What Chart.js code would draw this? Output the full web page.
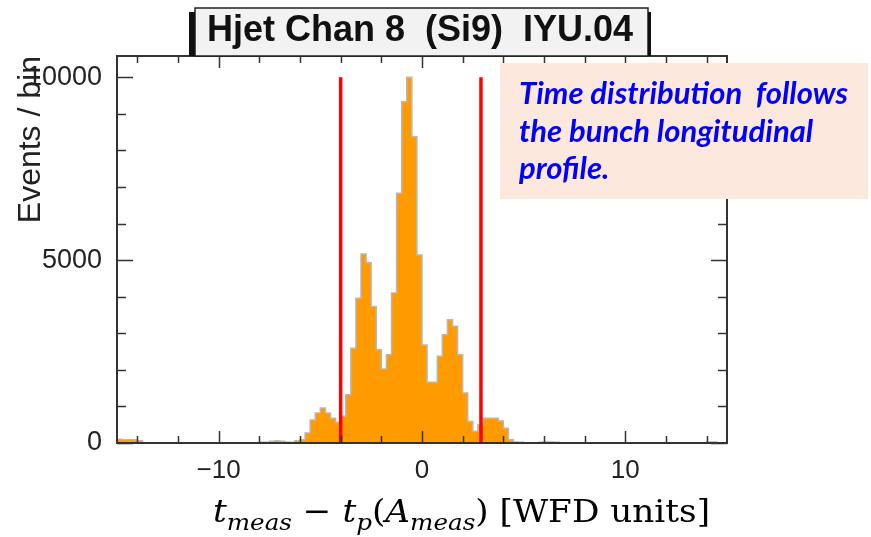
<!DOCTYPE html>
<html>
<head>
<meta charset="utf-8">
<script src="https://cdn.jsdelivr.net/npm/chart.js@4.4.1/dist/chart.umd.min.js"></script>
<style>
  html, body { margin: 0; padding: 0; background: #fff; }
</style>
</head>
<body>
<canvas id="hist" width="871" height="537"></canvas>
<script>
// histogram binning: 120 bins of 0.25 from -15 to 15
const binLow = -15;
const binWidth = 0.25;

// counts per bin (10 bins per row)
const counts = [
  100, 100, 90, 90, 90, 60, 10, 0, 0, 0,          // -15   .. -12.75
  0, 0, 0, 0, 10, 0, 0, 0, 0, 0,                  // -12.5 .. -10.25
  0, 10, 0, 0, 0, 0, 0, 0, 10, 20,                // -10   .. -7.75
  20, 50, 60, 50, 20, 20, 60, 90, 270, 630,       // -7.5  .. -5.25
  820, 955, 820, 680, 560, 730, 1320, 2590, 3960, 5170,   // -5 .. -2.75
  4930, 3730, 2550, 2020, 2410, 4100, 6825, 9330, 10000, 8370, // -2.5 .. -0.25
  5140, 2680, 1660, 1660, 2370, 2960, 3370, 3190, 2410, 1365,  // 0 .. 2.25
  590, 320, 500, 680, 680, 680, 600, 400, 90, 30,  // 2.5 .. 4.75
  20, 10, 10, 10, 20, 30, 30, 20, 10, 0,          // 5 .. 7.25
  0, 0, 0, 0, 0, 0, 0, 0, 0, 0,                   // 7.5 .. 9.75
  0, 0, 0, 0, 0, 0, 0, 0, 0, 0,                   // 10 .. 12.25
  0, 0, 0, 0, 0, 0, 10, 30, 30, 0                 // 12.5 .. 14.75
];

// red cut lines
const cutLow = -4.0;
const cutHigh = 2.9;
const cutTop = 10000;

// axes
const xRange = [-15, 15];
const yRange = [0, 10580];
const xTickLabels = [-10, 0, 10];
const xTicks = [-14, -12, -10, -8, -6, -4, -2, 0, 2, 4, 6, 8, 10, 12, 14];
const yTickLabels = [0, 5000, 10000];
const yTicks = [0, 1000, 2000, 3000, 4000, 5000, 6000, 7000, 8000, 9000, 10000];

const titleText = 'Hjet Chan 8  (Si9)  IYU.04';
const noteLines = ['Time distribution  follows', 'the bunch longitudinal', 'profile.'];

// stepped points at bin low edges + closing edge
const histPoints = counts.map((c, i) => ({ x: binLow + i * binWidth, y: c }));
histPoints.push({ x: binLow + counts.length * binWidth, y: 0 });

const frameAndTicks = {
  id: 'frameAndTicks',
  afterDatasetsDraw(chart) {
    const { ctx, chartArea: a, scales: { x, y } } = chart;
    ctx.save();
    ctx.strokeStyle = '#333';
    ctx.lineWidth = 1.5;
    ctx.beginPath();
    xTicks.forEach(v => {
      const px = Math.round(x.getPixelForValue(v)) + 0.5;
      const len = xTickLabels.includes(v) ? 12 : 7;
      ctx.moveTo(px, a.bottom); ctx.lineTo(px, a.bottom - len);
      ctx.moveTo(px, a.top); ctx.lineTo(px, a.top + len);
    });
    yTicks.forEach(v => {
      const py = Math.round(y.getPixelForValue(v)) + 0.5;
      const len = yTickLabels.includes(v) ? 16 : 9;
      ctx.moveTo(a.left, py); ctx.lineTo(a.left + len, py);
      ctx.moveTo(a.right, py); ctx.lineTo(a.right - len, py);
    });
    ctx.stroke();
    ctx.lineWidth = 2;
    ctx.strokeRect(a.left, a.top, a.right - a.left, a.bottom - a.top);
    ctx.restore();
  },
  afterDraw(chart) {
    const { ctx } = chart;
    ctx.save();
    // title pave
    ctx.fillStyle = '#f2f2f2';
    ctx.fillRect(195, 8, 453, 48);
    ctx.strokeStyle = '#222';
    ctx.lineWidth = 1.5;
    ctx.strokeRect(195, 8, 453, 48);
    ctx.fillStyle = '#111';
    ctx.fillRect(189, 12, 6, 44);
    ctx.fillRect(648, 12, 3, 44);
    ctx.font = 'bold 36px "Liberation Sans"';
    ctx.textAlign = 'center';
    ctx.textBaseline = 'alphabetic';
    ctx.fillText(titleText, 420, 41, 426);

    // note box
    ctx.fillStyle = '#fce8dc';
    ctx.fillRect(500, 63, 368, 136);
    ctx.fillStyle = '#0000ff';
    ctx.font = 'italic bold 31px Lato';
    ctx.textAlign = 'left';
    noteLines.forEach((t, i) => ctx.fillText(t, 519, 104 + i * 37.5, 340));

    // x axis title with subscripts, stretched to the reference width
    const parts = [
      ['t', 'italic', 0], ['meas', 'italic', 1], [' \u2212 ', '', 0], ['t', 'italic', 0],
      ['p', 'italic', 1], ['(', '', 0], ['A', 'italic', 0], ['meas', 'italic', 1],
      [')', '', 0], [' [WFD units]', '', 0]
    ];
    const fontFor = (st, sub) => `${st} ${sub ? 23 : 32}px "DejaVu Serif"`.trim();
    let total = 0;
    parts.forEach(([s, st, sub]) => { ctx.font = fontFor(st, sub); total += ctx.measureText(s).width; });
    const sx = 497 / total;
    ctx.translate(213, 522);
    ctx.scale(sx, 1);
    let cx = 0;
    ctx.fillStyle = '#000';
    parts.forEach(([s, st, sub]) => {
      ctx.font = fontFor(st, sub);
      ctx.fillText(s, cx, sub ? 8 : 0);
      cx += ctx.measureText(s).width;
    });
    ctx.restore();
  }
};

new Chart(document.getElementById('hist'), {
  type: 'line',
  data: {
    datasets: [
      {
        label: 'cut low',
        data: [{ x: cutLow, y: 0 }, { x: cutLow, y: cutTop }],
        borderColor: '#ff0000',
        borderWidth: 3.5,
        pointRadius: 0,
        order: 0
      },
      {
        label: 'cut high',
        data: [{ x: cutHigh, y: 0 }, { x: cutHigh, y: cutTop }],
        borderColor: '#ff0000',
        borderWidth: 3.5,
        pointRadius: 0,
        order: 0
      },
      {
        label: 'events',
        data: histPoints,
        stepped: 'after',
        borderColor: '#b8b8b8',
        borderWidth: 1.5,
        backgroundColor: '#ff9a00',
        fill: 'origin',
        pointRadius: 0,
        order: 1
      }
    ]
  },
  options: {
    responsive: false,
    animation: false,
    layout: { padding: { top: 56, right: 144, left: 0, bottom: 0 } },
    plugins: { legend: { display: false }, tooltip: { enabled: false } },
    scales: {
      x: {
        type: 'linear',
        min: xRange[0],
        max: xRange[1],
        grid: { display: false },
        border: { display: false },
        afterBuildTicks: s => { s.ticks = xTickLabels.map(v => ({ value: v })); },
        afterFit: s => { s.height = 94; },
        ticks: {
          padding: 4,
          color: '#222',
          font: { family: 'Liberation Sans', size: 26 },
          callback: v => String(v).replace('-', '\u2212')
        }
      },
      y: {
        min: yRange[0],
        max: yRange[1],
        grid: { display: false },
        border: { display: false },
        afterBuildTicks: s => { s.ticks = yTickLabels.map(v => ({ value: v })); },
        afterFit: s => { s.width = 117; },
        ticks: {
          padding: 7,
          color: '#222',
          font: { family: 'Liberation Sans', size: 27 },
          callback: v => String(v)
        },
        title: {
          display: true,
          text: 'Events / bin',
          align: 'end',
          color: '#222',
          font: { family: 'Liberation Sans', size: 32 },
          padding: { top: 12, bottom: 0 }
        }
      }
    }
  },
  plugins: [frameAndTicks]
});
</script>
</body>
</html>
